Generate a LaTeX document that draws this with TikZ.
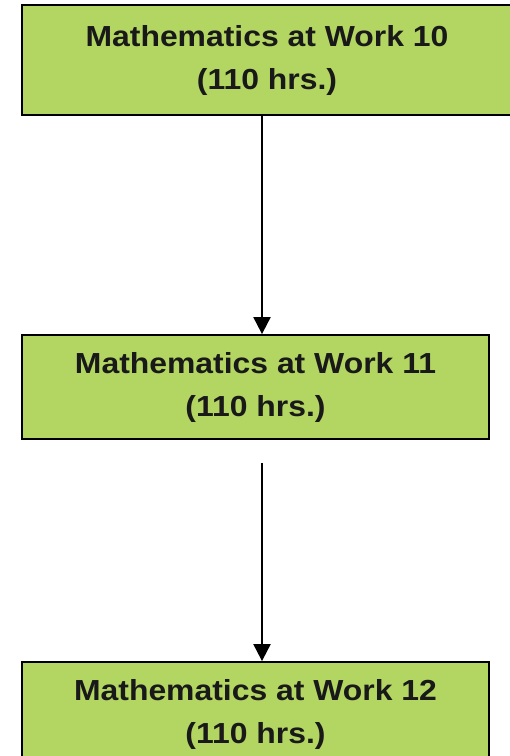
\documentclass[tikz,border=0pt]{standalone}
\usepackage{fontspec}
\usetikzlibrary{positioning, calc, arrows.meta}
\newfontfamily\boxfont{Liberation Sans}[FakeStretch=1.1]
\definecolor{coursegreen}{RGB}{179,214,98}
\tikzset{
  course/.style={draw=black, fill=coursegreen, line width=1.8pt, inner sep=0pt, align=center,
    minimum height=104pt, font=\boxfont\bfseries\fontsize{29}{43}\selectfont, text=black!90},
  flow/.style={draw=black, line width=2pt, -{Triangle[width=17pt, length=17pt]}},
}

\begin{document}
\begin{tikzpicture}[x=1pt, y=-1pt]
  \useasboundingbox (0,0) rectangle (510,756);
  \clip (0,0) rectangle (510,756);
  % ---- courses, one per year ----------------------------------------------
  \node[course, minimum width=490pt, minimum height=110pt] (w10) at (267,60)
    {Mathematics at Work 10\\(110 hrs.)};
  \node[course, minimum width=467pt] (w11) at (255.5,387)
    {Mathematics at Work 11\\(110 hrs.)};
  \node[course, minimum width=467pt] (w12) at (255.5,714)
    {Mathematics at Work 12\\(110 hrs.)};

  % ---- arrows down the sequence -------------------------------------------
  \coordinate (axis) at (262,0);
  \coordinate (gap) at ($(w11.south -| axis) + (0,23)$);
  \draw[flow] (w10.south -| axis) -- (w11.north -| axis);
  \draw[flow] (gap) -- (w12.north -| axis);
\end{tikzpicture}
\end{document}
